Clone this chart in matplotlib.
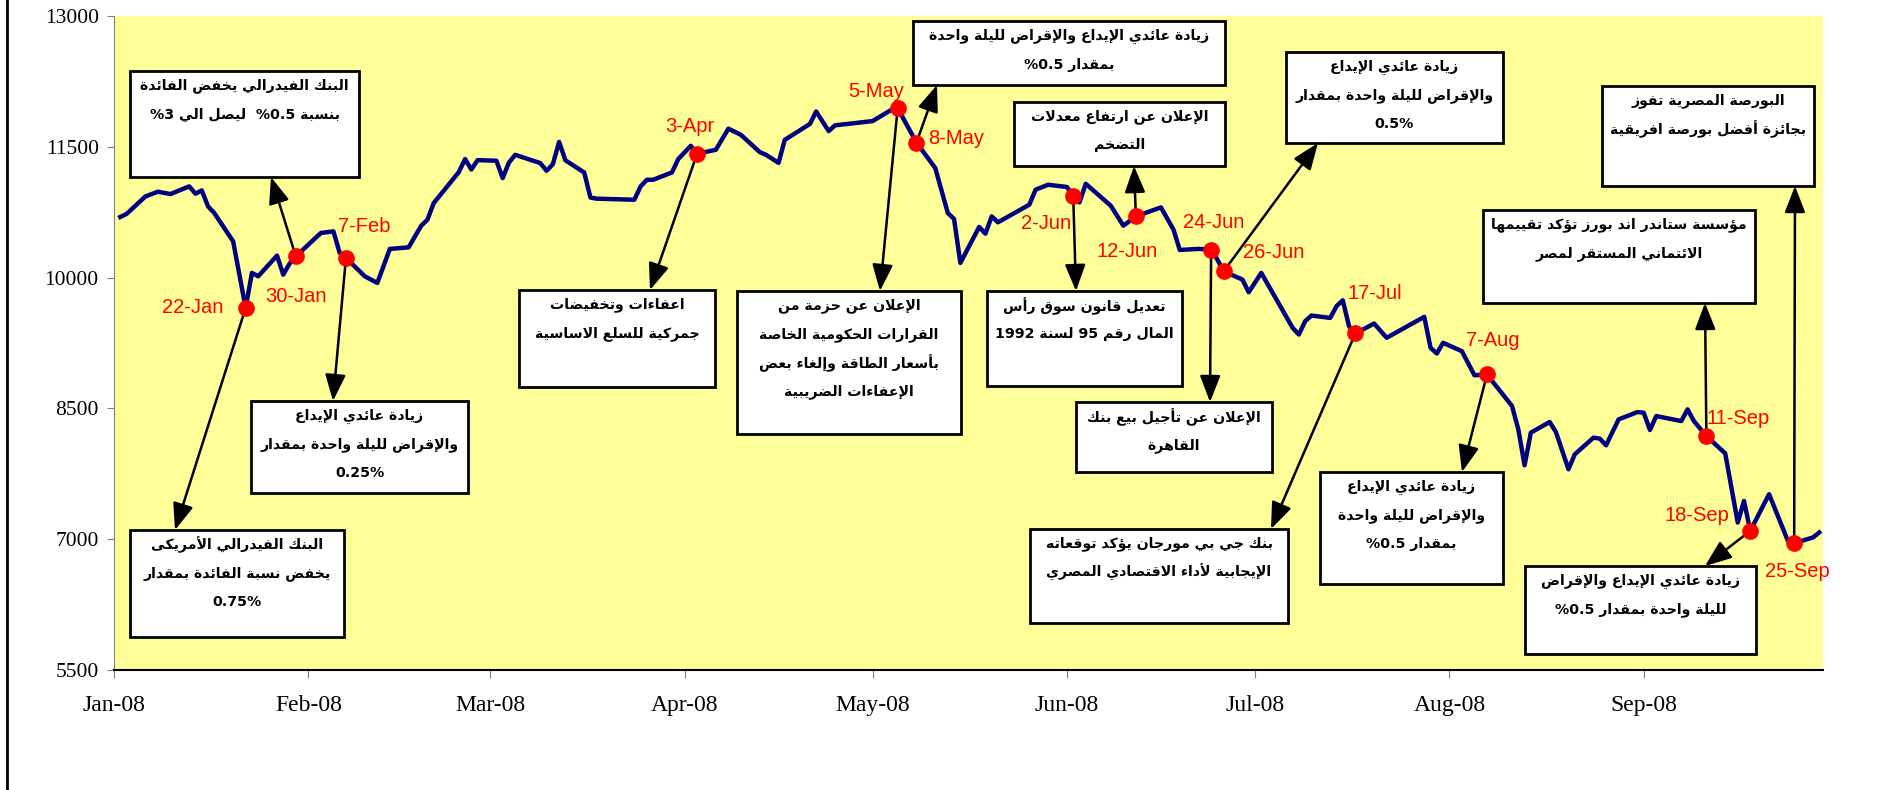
import pandas as pd
import matplotlib
matplotlib.use('Agg')
import matplotlib.pyplot as plt
import matplotlib.dates as mdates
from matplotlib.patches import Rectangle
from matplotlib.lines import Line2D

# index values (2008)
dates = ['01-02', '01-03', '01-06', '01-08', '01-10', '01-13', '01-14', '01-15', '01-16', '01-17',
         '01-20', '01-22', '01-23', '01-24', '01-27', '01-28', '01-29', '01-30',
         '02-03', '02-05', '02-06', '02-07', '02-10', '02-12', '02-14', '02-17', '02-19', '02-20',
         '02-21', '02-25', '02-26', '02-27', '02-28',
         '03-02', '03-03', '03-04', '03-05', '03-09', '03-10', '03-11', '03-12', '03-13', '03-16',
         '03-17', '03-18', '03-24', '03-25', '03-26', '03-27', '03-30', '03-31',
         '04-02', '04-03', '04-06', '04-08', '04-10', '04-13', '04-14', '04-16', '04-17', '04-21',
         '04-22', '04-24', '04-25',
         '05-01', '05-04', '05-05', '05-08', '05-11', '05-13', '05-14', '05-15', '05-18', '05-19',
         '05-20', '05-21', '05-26', '05-27', '05-29',
         '06-01', '06-02', '06-03', '06-04', '06-08', '06-10', '06-12', '06-16', '06-18', '06-19',
         '06-22', '06-24', '06-25', '06-26', '06-29', '06-30',
         '07-02', '07-07', '07-08', '07-09', '07-10', '07-13', '07-14', '07-15', '07-16', '07-17',
         '07-20', '07-22', '07-28', '07-29', '07-30', '07-31',
         '08-03', '08-05', '08-07', '08-11', '08-12', '08-13', '08-14', '08-17', '08-18', '08-20',
         '08-21', '08-24', '08-25', '08-26', '08-28', '08-31',
         '09-01', '09-02', '09-03', '09-07', '09-08', '09-09', '09-11', '09-14', '09-16', '09-17',
         '09-18', '09-21', '09-24', '09-25', '09-28', '09-29']
values = [10695, 10730, 10930, 10985, 10958, 11046, 10962, 11000, 10817, 10740,
          10416, 9653, 10054, 10015, 10252, 10034, 10160, 10244,
          10512, 10530, 10283, 10226, 10015, 9939, 10329, 10347, 10595, 10664,
          10855, 11210, 11359, 11240, 11347,
          11340, 11141, 11320, 11408, 11313, 11225, 11300, 11556, 11345, 11206,
          10918, 10905, 10893, 11046, 11122, 11122, 11206, 11359,
          11511, 11420, 11466, 11708, 11637, 11440, 11408, 11316, 11580, 11762,
          11905, 11680, 11746,
          11795, 11924, 11943, 11549, 11256, 10741, 10672, 10168, 10581, 10504,
          10702, 10634, 10836, 11008, 11065,
          11039, 10939, 10862, 11076, 10824, 10595, 10702, 10805, 10550, 10317,
          10329, 10321, 10206, 10072, 9977, 9832,
          10054, 9424, 9347, 9500, 9565, 9538, 9672, 9740, 9442, 9359,
          9473, 9310, 9550, 9195, 9130, 9252,
          9156, 8880, 8889, 8527, 8260, 7848, 8222, 8344, 8229, 7802,
          7973, 8165, 8153, 8077, 8374, 8458,
          8451, 8252, 8412, 8355, 8489, 8355, 8183, 7985, 7191, 7439,
          7096, 7516, 6981, 6954, 7020, 7077]

event_dates = ['01-22', '01-30', '02-07', '04-03', '05-05', '05-08', '06-02', '06-12',
               '06-24', '06-26', '07-17', '08-07', '09-11', '09-18', '09-25']
event_labels = ['22-Jan', '30-Jan', '7-Feb', '3-Apr', '5-May', '8-May', '2-Jun', '12-Jun',
                '24-Jun', '26-Jun', '17-Jul', '7-Aug', '11-Sep', '18-Sep', '25-Sep']

notes = [
    ('01-30', ['البنك الفيدرالي يخفض الفائدة', 'بنسبة 0.5%  ليصل الي 3%']),
    ('01-22', ['البنك الفيدرالي الأمريكى', 'يخفض نسبة الفائدة بمقدار', '0.75%']),
    ('02-07', ['زيادة عائدي الإيداع', 'والإقراض لليلة واحدة بمقدار', '0.25%']),
    ('04-03', ['اعفاءات وتخفيضات', 'جمركية للسلع الاساسية']),
    ('05-05', ['الإعلان عن حزمة من', 'القرارات الحكومية الخاصة', 'بأسعار الطاقة وإلغاء بعض',
               'الإعفاءات الضريبية']),
    ('05-08', ['زيادة عائدي الإيداع والإقراض لليلة واحدة', 'بمقدار 0.5%']),
    ('06-12', ['الإعلان عن ارتفاع معدلات', 'التضخم']),
    ('06-02', ['تعديل قانون سوق رأس', 'المال رقم 95 لسنة 1992']),
    ('06-24', ['الإعلان عن تأجيل بيع بنك', 'القاهرة']),
    ('06-26', ['زيادة عائدي الإيداع', 'والإقراض لليلة واحدة بمقدار', '0.5%']),
    ('09-25', ['البورصة المصرية تفوز', 'بجائزة أفضل بورصة افريقية']),
    ('09-11', ['مؤسسة ستاندر اند بورز تؤكد تقييمها', 'الائتماني المستقر لمصر']),
    ('07-17', ['بنك جي بي مورجان يؤكد توقعاته', 'الإيجابية لأداء الاقتصادي المصري']),
    ('08-07', ['زيادة عائدي الإيداع', 'والإقراض لليلة واحدة', 'بمقدار 0.5%']),
    ('09-18', ['زيادة عائدي الإيداع والإقراض', 'لليلة واحدة بمقدار 0.5%']),
]

# layout, in pixels of the 1896x790 picture
L, R, T, B = 114, 1823, 16, 670
# box (x0, y0, x1, y1) and the point on it where the arrow ends
boxes = [(130, 71, 359, 177, 271, 177), (130, 530, 344, 637, 175, 530),
         (251, 401, 468, 493, 333, 401), (519, 290, 715, 387, 650, 290),
         (737, 291, 961, 434, 880, 291), (913, 21, 1225, 85, 937, 85),
         (1014, 102, 1225, 166, 1134, 166), (987, 291, 1182, 386, 1076, 291),
         (1076, 402, 1272, 472, 1210, 402), (1286, 52, 1503, 143, 1318, 143),
         (1602, 86, 1814, 186, 1795, 186), (1483, 210, 1755, 303, 1705, 303),
         (1030, 529, 1288, 623, 1271, 529), (1320, 472, 1503, 584, 1462, 472),
         (1525, 566, 1756, 654, 1705, 566)]
# red label offset from its dot (pixels, y up) and alignment
label_pos = [(-22, 0, 'right'), (0, -40, 'center'), (18, 31, 'center'), (-7, 27, 'center'),
             (-21, 17, 'center'), (12, 4, 'left'), (-2, -28, 'right'), (-9, -35, 'center'),
             (3, 27, 'center'), (19, 19, 'left'), (-8, 40, 'left'), (6, 34, 'center'),
             (0, 18, 'left'), (-21, 15, 'right'), (3, -28, 'center')]

# --- minimal arabic shaping (matplotlib draws glyphs left to right, unshaped) ---
RJ = {0x0622: 0xFE81, 0x0623: 0xFE83, 0x0624: 0xFE85, 0x0625: 0xFE87, 0x0627: 0xFE8D,
      0x0629: 0xFE93, 0x062F: 0xFEA9, 0x0630: 0xFEAB, 0x0631: 0xFEAD, 0x0632: 0xFEAF,
      0x0648: 0xFEED, 0x0649: 0xFEEF}
DJ = {0x0626: 0xFE89, 0x0628: 0xFE8F, 0x062A: 0xFE95, 0x062B: 0xFE99, 0x062C: 0xFE9D,
      0x062D: 0xFEA1, 0x062E: 0xFEA5, 0x0633: 0xFEB1, 0x0634: 0xFEB5, 0x0635: 0xFEB9,
      0x0636: 0xFEBD, 0x0637: 0xFEC1, 0x0638: 0xFEC5, 0x0639: 0xFEC9, 0x063A: 0xFECD,
      0x0641: 0xFED1, 0x0642: 0xFED5, 0x0643: 0xFED9, 0x0644: 0xFEDD, 0x0645: 0xFEE1,
      0x0646: 0xFEE5, 0x0647: 0xFEE9, 0x064A: 0xFEF1}
LAM_ALEF = {0x0622: 0xFEF5, 0x0623: 0xFEF7, 0x0625: 0xFEF9, 0x0627: 0xFEFB}


def shape(text):
    units = []
    i = 0
    while i < len(text):
        c = ord(text[i])
        if c == 0x0644 and i + 1 < len(text) and ord(text[i + 1]) in LAM_ALEF:
            units.append(('R', LAM_ALEF[ord(text[i + 1])]))
            i += 2
            continue
        if c in RJ:
            units.append(('R', RJ[c]))
        elif c in DJ:
            units.append(('D', DJ[c]))
        elif c == 0x0621:
            units.append(('U', 0xFE80))
        else:
            units.append(('X', text[i]))
        i += 1
    out = []
    for k, (kind, base) in enumerate(units):
        if kind == 'X':
            out.append(base)
            continue
        if kind == 'U':
            out.append(chr(base))
            continue
        prev = k > 0 and units[k - 1][0] == 'D'
        nxt = kind == 'D' and k + 1 < len(units) and units[k + 1][0] in ('R', 'D')
        off = 3 if (prev and nxt) else 1 if prev else 2 if nxt else 0
        out.append(chr(base + off))
    return out


def visual(line):
    if not any('\u0600' <= ch <= '\u06ff' for ch in line):
        return line
    tokens = []
    for g in shape(line):
        ltr = g.isascii() and (g.isalnum() or g == '.')
        if ltr and tokens and tokens[-1][0]:
            tokens[-1][1] += g
        else:
            tokens.append([ltr, g])
    return ''.join(t[1] for t in reversed(tokens))


plt.rcParams['font.family'] = ['Liberation Serif']

s = pd.Series(values, index=pd.to_datetime(['2008-' + d for d in dates]))
ev = pd.to_datetime(['2008-' + d for d in event_dates])

fig = plt.figure(figsize=(18.96, 7.9), dpi=100)
ax = fig.add_axes([L / 1896, 1 - B / 790, (R - L) / 1896, (B - T) / 790])
ax.set_facecolor('#FFFF99')

ax.plot(s.index, s.values, color='#000080', lw=3.2, zorder=3)
ax.plot(ev, s.loc[ev].values, 'o', color='red', ms=11, zorder=5)

for (dx, dy, ha), lab, d in zip(label_pos, event_labels, ev):
    ax.annotate(lab, (d, s.loc[d]), xytext=(dx, dy), textcoords='offset pixels',
                ha=ha, va='center', color='red', fontsize=14.5,
                family='Liberation Sans', zorder=6)


def frac(px, py):
    return (px - L) / (R - L), (B - py) / (B - T)


for (d, lines), (x0, y0, x1, y1, ax_, ay_) in zip(notes, boxes):
    d = pd.Timestamp('2008-' + d)
    ax.annotate('', xy=frac(ax_, ay_), xycoords='axes fraction',
                xytext=(mdates.date2num(d), s.loc[d]), textcoords='data',
                arrowprops=dict(arrowstyle='-|>,head_length=0.9,head_width=0.35',
                                color='black', lw=1.8, shrinkA=3, shrinkB=0,
                                mutation_scale=18), zorder=4)
    bx, by = frac(x0, y1)
    bw, bh = (x1 - x0) / (R - L), (y1 - y0) / (B - T)
    ax.add_patch(Rectangle((bx, by), bw, bh, transform=ax.transAxes, fc='white',
                           ec='black', lw=2, zorder=7, clip_on=False))
    for k, line in enumerate(lines):
        tx, ty = frac((x0 + x1) / 2, y0 + 15 + 28.5 * k)
        ax.text(tx, ty, visual(line), transform=ax.transAxes, ha='center', va='center',
                fontsize=10.2, family='DejaVu Sans', weight='bold', zorder=8)

ax.set_xlim(mdates.date2num(pd.Timestamp('2008-01-01')),
            mdates.date2num(pd.Timestamp('2008-01-01')) + 272.6)
ax.set_ylim(5500, 13000)
ax.set_yticks(range(5500, 13001, 1500))
ax.xaxis.set_major_locator(mdates.MonthLocator())
ax.xaxis.set_major_formatter(mdates.DateFormatter('%b-%y'))

for sp in ['top', 'right']:
    ax.spines[sp].set_visible(False)
ax.spines['left'].set_color('#808080')
ax.spines['bottom'].set_color('black')
ax.spines['bottom'].set_linewidth(1.5)
ax.tick_params(axis='y', labelsize=15.5, length=5, color='#808080', pad=6)
ax.tick_params(axis='x', labelsize=17, length=6, color='#808080', pad=12)

fig.add_artist(Line2D([7 / 1896, 7 / 1896], [0, 1], color='black', lw=2))

fig.savefig('out.png', dpi=100)
